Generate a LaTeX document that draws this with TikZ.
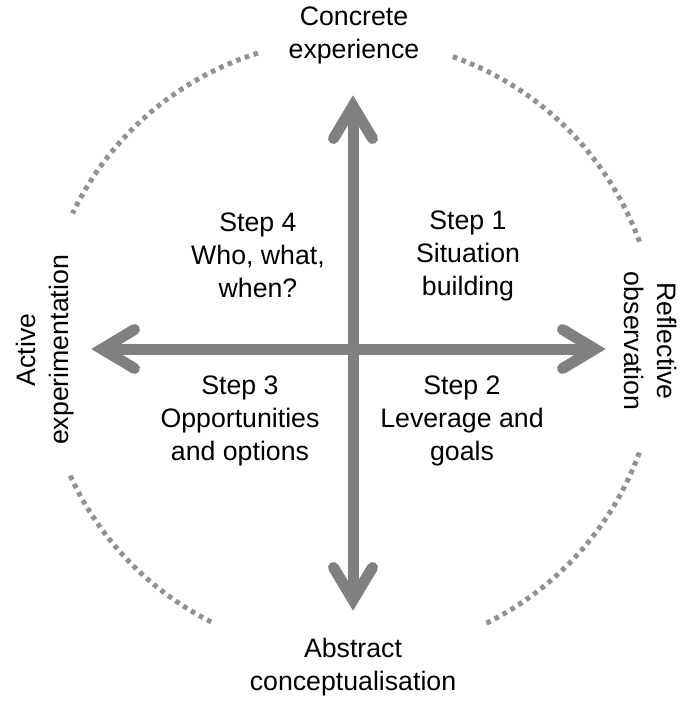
\documentclass[tikz,border=0pt]{standalone}
\usepackage{fontspec}
\setmainfont{Liberation Sans}
\usetikzlibrary{calc}
\definecolor{axisgray}{RGB}{128,128,128}
\definecolor{dotgray}{RGB}{145,145,145}
\begin{document}
\begin{tikzpicture}[x=1pt,y=-1pt,
  lbl/.style={font=\fontsize{26.7}{33}\selectfont, align=center, inner sep=0pt},
  shaft/.style={draw=axisgray, line width=11pt},
  head/.style={draw=axisgray, line width=11pt, line cap=round, line join=miter},
  cyclearc/.style={draw=dotgray, line width=5pt, dash pattern=on 4.6pt off 4.6pt}]
\useasboundingbox (0,0) rectangle (686,703);

% learning-cycle circle, broken where the four labels sit
\coordinate (O) at (350,347);
\draw[cyclearc] (O) ++(-20:308) arc[start angle=-20, end angle=-71.1, radius=308];
\draw[cyclearc] (O) ++(-107.4:308) arc[start angle=-107.4, end angle=-154.3, radius=308];
\draw[cyclearc] (O) ++(-204.7:308) arc[start angle=-204.7, end angle=-243.4, radius=308];
\draw[cyclearc] (O) ++(-296.3:308) arc[start angle=-296.3, end angle=-340.7, radius=308];

% the two axes
\coordinate (T) at (353,106);
\coordinate (B) at (353,600);
\coordinate (L) at (102,349);
\coordinate (R) at (595,349);
\draw[shaft] (T) -- (B);
\draw[shaft] (L) -- (R);
\draw[head] ($(T)+(-19.5,32.5)$) -- (T) -- ($(T)+(19.5,32.5)$);
\draw[head] ($(B)+(-19.5,-32.5)$) -- (B) -- ($(B)+(19.5,-32.5)$);
\draw[head] ($(L)+(32.5,-19.5)$) -- (L) -- ($(L)+(32.5,19.5)$);
\draw[head] ($(R)+(-32.5,-19.5)$) -- (R) -- ($(R)+(-32.5,19.5)$);

% stage labels
\node[lbl] (ce) at (354,35) {Concrete\\experience};
\node[lbl] (ac) at (353,667) {Abstract\\conceptualisation};
\node[lbl, rotate=90] (ae) at (45,350) {Active\\experimentation};
\node[lbl, rotate=-90] (ro) at (651,341) {Reflective\\observation};

% steps in the quadrants
\node[lbl] (s4) at (258,255) {Step 4\\Who, what,\\when?};
\node[lbl] (s1) at (468,256) {Step 1\\Situation\\building};
\node[lbl] (s3) at (240,421) {Step 3\\Opportunities\\and options};
\node[lbl] (s2) at (462,421) {Step 2\\Leverage and\\goals};
\end{tikzpicture}
\end{document}
